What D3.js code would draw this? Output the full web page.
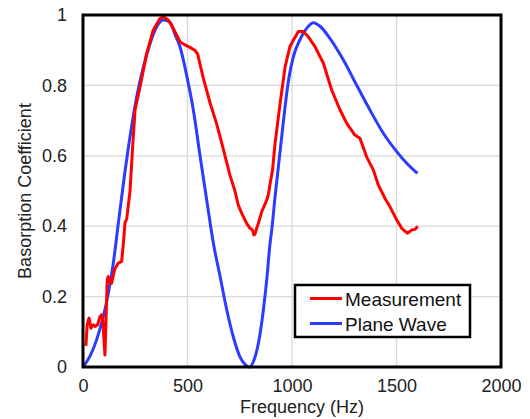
<!DOCTYPE html>
<html>
<head>
<script src="https://d3js.org/d3.v7.min.js"></script>
<style>
  body { margin: 0; background: #fff; }
  text { font-family: Arial, "Liberation Sans", Helvetica, sans-serif; }
</style>
</head>
<body>
<svg></svg>
<script>
// Measurement (red): frequency in Hz, absorption coefficient
const measFreq = [14, 20, 29, 38, 49, 58, 70, 81, 89, 95, 100, 105, 110, 116, 121, 130, 137, 145, 153, 169, 185, 193, 201, 209,
  225, 237, 249, 273, 305, 336, 368, 384, 408, 432, 464, 488, 512, 536, 548, 576, 608, 640, 671, 703, 727, 743, 759, 783,
  799, 810, 818, 823, 831, 839, 855, 879, 887, 895, 907, 919, 943, 967, 990, 1006, 1018, 1030, 1054, 1078, 1110, 1150,
  1190, 1230, 1262, 1301, 1325, 1357, 1389, 1413, 1445, 1469, 1501, 1525, 1552, 1572, 1589, 1601]
const measAlpha = [0.06, 0.12, 0.139, 0.11, 0.12, 0.115, 0.12, 0.143, 0.148, 0.13, 0.08, 0.034, 0.13, 0.25, 0.257, 0.24, 0.238, 0.26, 0.28, 0.295, 0.30, 0.35, 0.41, 0.42,
  0.50, 0.62, 0.73, 0.796, 0.891, 0.957, 0.99, 0.995, 0.986, 0.962, 0.924, 0.915, 0.908, 0.899, 0.89, 0.82, 0.75, 0.69, 0.62, 0.545, 0.50, 0.46, 0.437, 0.408,
  0.394, 0.39, 0.375, 0.378, 0.394, 0.408, 0.441, 0.474, 0.49, 0.52, 0.56, 0.636, 0.749, 0.853, 0.91, 0.928, 0.94, 0.953, 0.953, 0.938, 0.91, 0.863,
  0.787, 0.73, 0.692, 0.659, 0.65, 0.597, 0.56, 0.517, 0.479, 0.455, 0.418, 0.394, 0.38, 0.389, 0.391, 0.40]

// Plane wave model (blue)
const planeFreq = [0, 33, 65, 97, 121, 145, 169, 193, 225, 257, 289, 321, 353, 384, 416, 440, 464, 499, 528, 560, 592, 624,
  656, 688, 719, 751, 775, 797, 815, 839, 863, 879, 895, 903, 919, 935, 950, 967, 985, 1006, 1038, 1070, 1102, 1134,
  1182, 1246, 1309, 1373, 1437, 1501, 1549, 1600]
const planeAlpha = [0, 0.03, 0.077, 0.143, 0.209, 0.295, 0.408, 0.52, 0.654, 0.768, 0.853, 0.919, 0.967, 0.986, 0.98, 0.945, 0.91, 0.82, 0.73, 0.6, 0.474, 0.351,
  0.257, 0.162, 0.086, 0.029, 0.008, 0, 0.015, 0.067, 0.162, 0.247, 0.351, 0.389, 0.484, 0.57, 0.65, 0.74, 0.82, 0.88, 0.93, 0.962, 0.978, 0.968,
  0.933, 0.872, 0.801, 0.73, 0.664, 0.612, 0.579, 0.55]

const xTicks = [0, 500, 1000, 1500, 2000]
const yTicks = [0, 0.2, 0.4, 0.6, 0.8, 1]
const seriesNames = ['Measurement', 'Plane Wave']
const seriesColors = ['#ff0000', '#2b3bff']

const width = 530, height = 419
const margin = {left: 83, top: 15, right: 29, bottom: 52}
const w = width - margin.left - margin.right,
      h = height - margin.top - margin.bottom

const svg = d3.select('svg').attr('width', width).attr('height', height)
const g = svg.append('g').attr('transform', 'translate(' + margin.left + ',' + margin.top + ')')

const x = d3.scaleLinear().domain([0, 2000]).range([0, w])
const y = d3.scaleLinear().domain([0, 1]).range([h, 0])

// gridlines
g.append('g').selectAll('line')
  .data(xTicks.slice(1, -1)).enter().append('line')
  .attr('x1', d => x(d)).attr('x2', d => x(d))
  .attr('y1', 0).attr('y2', h)
  .attr('stroke', '#d9d9d9').attr('stroke-width', 1.3)
g.append('g').selectAll('line')
  .data(yTicks.slice(1, -1)).enter().append('line')
  .attr('y1', d => y(d)).attr('y2', d => y(d))
  .attr('x1', 0).attr('x2', w)
  .attr('stroke', '#d9d9d9').attr('stroke-width', 1.3)

// axes (labels only)
const xAxis = g.append('g')
  .attr('transform', 'translate(0,' + h + ')')
  .call(d3.axisBottom(x).tickValues(xTicks).tickSize(0).tickPadding(12).tickFormat(d3.format('d')))
const yAxis = g.append('g')
  .call(d3.axisLeft(y).tickValues(yTicks).tickSize(0).tickPadding(16).tickFormat(d => d === 0 || d === 1 ? d : d3.format('.1f')(d)))
;[xAxis, yAxis].forEach(a => {
  a.select('.domain').remove()
  a.selectAll('text').attr('font-size', 18).attr('fill', '#222').style('font-family', 'Arial, "Liberation Sans", sans-serif')
})

// lines
const measData = d3.zip(measFreq, measAlpha)
const planeData = d3.zip(planeFreq, planeAlpha)

g.append('path').datum(planeData)
  .attr('d', d3.line().x(d => x(d[0])).y(d => y(d[1])).curve(d3.curveMonotoneX))
  .attr('fill', 'none').attr('stroke', seriesColors[1]).attr('stroke-width', 3)
g.append('path').datum(measData)
  .attr('d', d3.line().x(d => x(d[0])).y(d => y(d[1])))
  .attr('fill', 'none').attr('stroke', seriesColors[0]).attr('stroke-width', 3)
  .attr('stroke-linejoin', 'round')

// frame
g.append('rect').attr('width', w).attr('height', h)
  .attr('fill', 'none').attr('stroke', '#000').attr('stroke-width', 3)

// axis titles
svg.append('text')
  .attr('x', 302).attr('y', 413)
  .attr('text-anchor', 'middle').attr('font-size', 18).attr('fill', '#222')
  .text('Frequency (Hz)')
svg.append('text')
  .attr('transform', 'translate(31,191)rotate(-90)')
  .attr('text-anchor', 'middle').attr('font-size', 18).attr('fill', '#222')
  .text('Basorption Coefficient')

// legend
const legend = svg.append('g').attr('transform', 'translate(295,285)')
legend.append('rect').attr('width', 175).attr('height', 52)
  .attr('fill', '#fff').attr('stroke', '#000').attr('stroke-width', 2.5)
seriesNames.forEach((name, i) => {
  const ly = 13.5 + i * 25
  legend.append('line').attr('x1', 15).attr('x2', 47).attr('y1', ly).attr('y2', ly)
    .attr('stroke', seriesColors[i]).attr('stroke-width', 3)
  legend.append('text').attr('x', 50).attr('y', ly + 7)
    .attr('font-size', 19).attr('fill', '#111').text(name)
})
</script>
</body>
</html>
